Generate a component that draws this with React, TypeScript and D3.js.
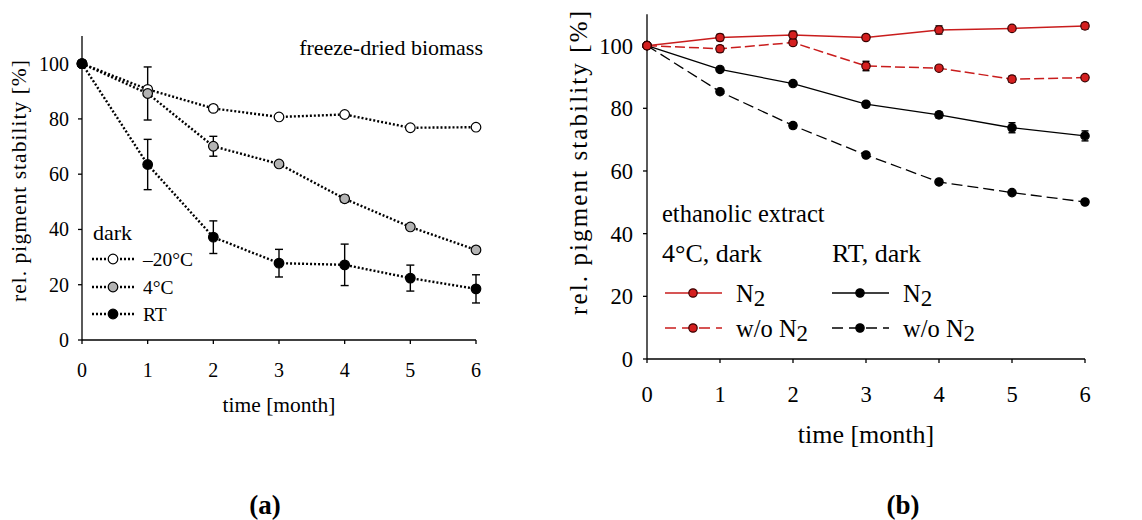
import React from "react";
import * as d3 from "d3";

const months = [0, 1, 2, 3, 4, 5, 6];
const yTicks = [0, 20, 40, 60, 80, 100];

// panel (a) freeze-dried biomass
const aMinus20 = [100, 90.7, 83.8, 80.7, 81.6, 76.8, 77.0];
const aMinus20Err = [0, 0.5, 0.5, 0.5, 0.5, 0.5, 0.5];
const a4C = [100, 89.2, 70.1, 63.7, 51.1, 40.9, 32.6];
const a4CErr = [0, 9.6, 3.6, 0.6, 1.2, 0.6, 0.6];
const aRT = [100, 63.5, 37.2, 27.8, 27.2, 22.4, 18.5];
const aRTErr = [0, 9.1, 5.9, 5.0, 7.5, 4.7, 5.1];
const aLegend = ["–20°C", "4°C", "RT"];

// panel (b) ethanolic extract
const bRedN2 = [100, 102.6, 103.4, 102.6, 105.0, 105.5, 106.3];
const bRedN2Err = [0, 1.0, 1.2, 0.5, 1.3, 0.5, 1.0];
const bRedWo = [100, 99.0, 101.0, 93.5, 92.8, 89.3, 89.8];
const bRedWoErr = [0, 1.0, 0.8, 1.5, 0.5, 1.0, 0.5];
const bBlkN2 = [100, 92.4, 87.9, 81.3, 77.9, 73.8, 71.2];
const bBlkN2Err = [0, 0.5, 0.5, 0.5, 1.0, 1.6, 1.6];
const bBlkWo = [100, 85.3, 74.5, 65.1, 56.5, 53.1, 50.1];
const bBlkWoErr = [0, 0.5, 0.8, 0.5, 0.5, 0.5, 0.5];

const FONT = "'Liberation Serif', 'Times New Roman', serif";
const RED = "#d41f1f";
const REDLINE = "#c91d1d";

type Series = {
  values: number[];
  err: number[];
  fill: string;
  stroke: string;
  lineColor: string;
  dash: string;
  lineWidth: number;
  r: number;
};

function Panel({
  x,
  y,
  series,
  tickFont,
  titleFont,
  xTitleFont,
  yTitleLen,
  capW,
  xTitleY,
  yTitleX,
  yTitleY,
  xLabelY,
  yLabelX,
}: {
  x: d3.ScaleLinear<number, number>;
  y: d3.ScaleLinear<number, number>;
  series: Series[];
  tickFont: number;
  titleFont: number;
  xTitleFont: number;
  yTitleLen: number;
  capW: number;
  xTitleY: number;
  yTitleX: number;
  yTitleY: number;
  xLabelY: number;
  yLabelX: number;
}) {
  const [x0, x1] = x.range();
  const [y0, y1] = y.range();
  const line = (vals: number[]) =>
    d3
      .line<number>()
      .x((_, i) => x(months[i]))
      .y((d) => y(d))(vals) || "";
  return (
    <g>
      <line x1={x0} x2={x1} y1={y0} y2={y0} stroke="#000" strokeWidth={1.3} />
      <line x1={x0} x2={x0} y1={y0} y2={y1} stroke="#000" strokeWidth={1.3} />
      {months.map((m) => (
        <g key={"xt" + m}>
          <line x1={x(m)} x2={x(m)} y1={y0} y2={y0 + 4} stroke="#000" strokeWidth={1.3} />
          <text x={x(m)} y={xLabelY} textAnchor="middle" fontSize={tickFont} fontFamily={FONT}>
            {m}
          </text>
        </g>
      ))}
      {yTicks.map((t) => (
        <g key={"yt" + t}>
          <line x1={x0 - 4} x2={x0} y1={y(t)} y2={y(t)} stroke="#000" strokeWidth={1.3} />
          <text
            x={yLabelX}
            y={y(t)}
            dy="0.35em"
            textAnchor="end"
            fontSize={tickFont}
            fontFamily={FONT}
          >
            {t}
          </text>
        </g>
      ))}
      <text
        x={(x0 + x1) / 2}
        y={xTitleY}
        textAnchor="middle"
        fontSize={xTitleFont}
        fontFamily={FONT}
      >
        time [month]
      </text>
      <text
        transform={`translate(${yTitleX},${yTitleY}) rotate(-90)`}
        textAnchor="middle"
        fontSize={titleFont}
        fontFamily={FONT}
        textLength={yTitleLen}
        lengthAdjust="spacing"
      >
        rel. pigment stability [%]
      </text>
      {series.map((s, si) => (
        <path
          key={"l" + si}
          d={line(s.values)}
          fill="none"
          stroke={s.lineColor}
          strokeWidth={s.lineWidth}
          strokeDasharray={s.dash}
        />
      ))}
      {series.map((s, si) =>
        s.values.map((v, i) =>
          s.err[i] > 0 ? (
            <g key={"e" + si + "-" + i} stroke="#000" strokeWidth={1.4}>
              <line x1={x(months[i])} x2={x(months[i])} y1={y(v - s.err[i])} y2={y(v + s.err[i])} />
              <line
                x1={x(months[i]) - capW / 2}
                x2={x(months[i]) + capW / 2}
                y1={y(v - s.err[i])}
                y2={y(v - s.err[i])}
              />
              <line
                x1={x(months[i]) - capW / 2}
                x2={x(months[i]) + capW / 2}
                y1={y(v + s.err[i])}
                y2={y(v + s.err[i])}
              />
            </g>
          ) : null
        )
      )}
      {series.map((s, si) =>
        s.values.map((v, i) => (
          <circle
            key={"m" + si + "-" + i}
            cx={x(months[i])}
            cy={y(v)}
            r={s.r}
            fill={s.fill}
            stroke={s.stroke}
            strokeWidth={1.2}
          />
        ))
      )}
    </g>
  );
}

export default function App() {
  const xA = d3.scaleLinear().domain([0, 6]).range([82, 476]);
  const yA = d3.scaleLinear().domain([0, 110]).range([340, 36]);
  const xB = d3.scaleLinear().domain([0, 6]).range([647, 1085]);
  const yB = d3.scaleLinear().domain([0, 110]).range([359, 14.3]);

  const dotted = "2,2";
  const seriesA: Series[] = [
    { values: aMinus20, err: aMinus20Err, fill: "#fff", stroke: "#000", lineColor: "#000", dash: dotted, lineWidth: 2.4, r: 4.8 },
    { values: a4C, err: a4CErr, fill: "#b3b3b3", stroke: "#000", lineColor: "#000", dash: dotted, lineWidth: 2.4, r: 4.8 },
    { values: aRT, err: aRTErr, fill: "#000", stroke: "#000", lineColor: "#000", dash: dotted, lineWidth: 2.4, r: 4.8 },
  ];
  const seriesB: Series[] = [
    { values: bBlkWo, err: bBlkWoErr, fill: "#000", stroke: "#000", lineColor: "#000", dash: "11,5", lineWidth: 1.3, r: 4.2 },
    { values: bBlkN2, err: bBlkN2Err, fill: "#000", stroke: "#000", lineColor: "#000", dash: "", lineWidth: 1.3, r: 4.2 },
    { values: bRedWo, err: bRedWoErr, fill: RED, stroke: "#3a0000", lineColor: REDLINE, dash: "10,4", lineWidth: 1.5, r: 4.2 },
    { values: bRedN2, err: bRedN2Err, fill: RED, stroke: "#3a0000", lineColor: REDLINE, dash: "", lineWidth: 1.5, r: 4.2 },
  ];

  const legA = [seriesA[0], seriesA[1], seriesA[2]];
  const legAY = [259, 287, 314];

  const legB = [
    { s: seriesB[3], lx: 665, mx: 693, tx: 736, ty: 293, w: "" },
    { s: seriesB[2], lx: 665, mx: 693, tx: 736, ty: 328, w: "w/o " },
    { s: seriesB[1], lx: 832, mx: 860, tx: 903, ty: 293, w: "" },
    { s: seriesB[0], lx: 832, mx: 860, tx: 903, ty: 328, w: "w/o " },
  ];

  return (
    <svg
      width={1142}
      height={520}
      style={{ position: "absolute", left: 0, top: 0, background: "#fff" }}
    >
      <rect width={1142} height={520} fill="#fff" />
      <Panel
        x={xA}
        y={yA}
        series={seriesA}
        tickFont={20}
        titleFont={21.5}
        xTitleFont={21.5}
        yTitleLen={242}
        capW={8}
        xTitleY={412}
        yTitleX={26}
        yTitleY={181}
        xLabelY={377}
        yLabelX={69}
      />
      <text x={483} y={55} textAnchor="end" fontSize={22} fontFamily={FONT}>
        freeze-dried biomass
      </text>
      <text x={93} y={240} fontSize={22} fontFamily={FONT}>
        dark
      </text>
      {legA.map((s, i) => (
        <g key={"la" + i}>
          <line x1={92} x2={135} y1={legAY[i]} y2={legAY[i]} stroke="#000" strokeWidth={2.4} strokeDasharray={dotted} />
          <circle cx={113} cy={legAY[i]} r={4.8} fill={s.fill} stroke="#000" strokeWidth={1.2} />
          <text x={143} y={legAY[i]} dy="0.35em" fontSize={19.5} fontFamily={FONT}>
            {aLegend[i]}
          </text>
        </g>
      ))}

      <Panel
        x={xB}
        y={yB}
        series={seriesB}
        tickFont={22.5}
        titleFont={25}
        xTitleFont={26}
        yTitleLen={304}
        capW={7}
        xTitleY={443}
        yTitleX={587}
        yTitleY={163}
        xLabelY={402}
        yLabelX={633}
      />
      <text x={662} y={222} fontSize={24.5} fontFamily={FONT}>
        ethanolic extract
      </text>
      <text x={662} y={262} fontSize={26} fontFamily={FONT}>
        4°C, dark
      </text>
      <text x={832} y={262} fontSize={26} fontFamily={FONT}>
        RT, dark
      </text>
      {legB.map((l, i) => (
        <g key={"lb" + i}>
          <line
            x1={l.lx}
            x2={l.lx + 57}
            y1={l.ty}
            y2={l.ty}
            stroke={l.s.lineColor}
            strokeWidth={l.s.lineWidth}
            strokeDasharray={l.s.dash ? "11,6" : ""}
          />
          <circle cx={l.mx} cy={l.ty} r={l.s.r} fill={l.s.fill} stroke={l.s.stroke} strokeWidth={1.2} />
          <text x={l.tx} y={l.ty} dy="0.35em" fontSize={24.5} fontFamily={FONT}>
            {l.w}N
            <tspan dy="4" fontSize={23}>
              2
            </tspan>
          </text>
        </g>
      ))}

      <text x={265} y={514} textAnchor="middle" fontSize={27} fontWeight="bold" fontFamily={FONT}>
        (a)
      </text>
      <text x={903} y={514} textAnchor="middle" fontSize={27} fontWeight="bold" fontFamily={FONT}>
        (b)
      </text>
    </svg>
  );
}
